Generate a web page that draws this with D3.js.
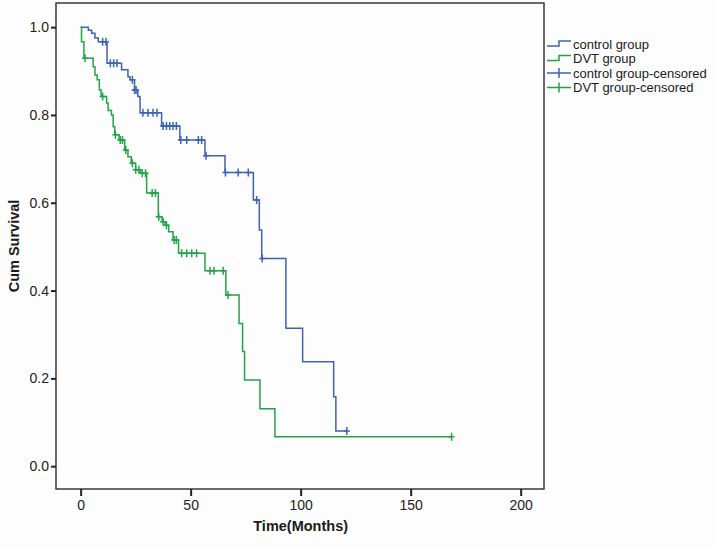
<!DOCTYPE html>
<html>
<head>
<meta charset="utf-8">
<script src="https://cdn.jsdelivr.net/npm/d3@7"></script>
<style>
  body { margin: 0; background: #fdfdfd; }
  svg { display: block; font-family: "Liberation Sans", Arial, sans-serif; }
</style>
</head>
<body>
<div class="km"></div>
<script>
// DATA ---------------------------------------------------
// control group: event times (months) and survival after each event
var ctrlTime = [0, 3.5, 5, 6.5, 8, 12, 18.6, 21.5, 22.4, 24.5, 26, 27, 36.8, 45.1, 56.5, 65.6, 78.5, 81.2, 82.3, 93.3, 100.9, 115, 116];
var ctrlSurv = [1.0, 0.993, 0.986, 0.975, 0.967, 0.918, 0.903, 0.887, 0.88, 0.857, 0.842, 0.805, 0.775, 0.743, 0.707, 0.669, 0.606, 0.538, 0.473, 0.314, 0.238, 0.158, 0.080];
var ctrlCensored = [10, 11.5, 13.5, 15, 16.5, 23.5, 24.5, 25.2, 28.3, 30.6, 32.9, 34.7, 37.5, 39, 40.5, 42, 43.5, 45.5, 48.2, 53.5, 55, 57, 65.8, 71.6, 76.2, 80, 82.5, 121];

// DVT group
var dvtTime = [0, 0.4, 1.5, 5.7, 6.5, 7.5, 8.5, 9.3, 11.8, 12.5, 14, 14.8, 15.5, 17.5, 20, 21.5, 23, 25, 27, 30, 35.3, 37, 38.5, 40, 42, 44.5, 56.5, 66, 72, 73.6, 74.5, 81.5, 88.3];
var dvtSurv = [1.0, 0.967, 0.929, 0.91, 0.891, 0.88, 0.857, 0.842, 0.827, 0.81, 0.80, 0.773, 0.755, 0.743, 0.72, 0.705, 0.69, 0.675, 0.667, 0.622, 0.568, 0.557, 0.549, 0.534, 0.515, 0.485, 0.445, 0.39, 0.325, 0.261, 0.196, 0.131, 0.067];
var dvtCensored = [2, 10, 15.8, 18, 19, 20.5, 23.5, 25, 26.5, 28, 29.5, 32.5, 34, 35.5, 37.5, 39, 42.5, 43.5, 45.9, 48.2, 50.5, 52.7, 58.8, 60.6, 64.8, 67, 168.6];

var xTicks = [0, 50, 100, 150, 200];
var yTicks = [0.0, 0.2, 0.4, 0.6, 0.8, 1.0];
var legendLabels = ["control group", "DVT group", "control group-censored", "DVT group-censored"];

var blue = "#3d63b1";
var green = "#22a346";

// SVG SETUP ----------------------------------------------
var svgWidth = 714;
var svgHeight = 548;
var margin = { top: 3, left: 56 };
var chartWidth = 488;
var chartHeight = 486;

var svg = d3.select(".km")
  .append("svg")
  .attr("width", svgWidth)
  .attr("height", svgHeight);

var chartGroup = svg.append("g")
  .attr("transform", `translate(${margin.left}, ${margin.top})`);

var x = d3.scaleLinear().domain([-11.2, 210.6]).range([0, chartWidth]);
var y = d3.scaleLinear().domain([-0.052, 1.055]).range([chartHeight, 0]);

// frame
chartGroup.append("rect")
  .attr("width", chartWidth)
  .attr("height", chartHeight)
  .attr("fill", "#fdfdfd")
  .attr("stroke", "#2a2a2a")
  .attr("stroke-width", 1.4);

// axes
var leftAxis = d3.axisLeft(y).tickValues(yTicks).tickFormat(d3.format(".1f")).tickSize(5).tickSizeOuter(0);
var bottomAxis = d3.axisBottom(x).tickValues(xTicks).tickSize(7).tickSizeOuter(0);

var yAxisG = chartGroup.append("g").call(leftAxis);
var xAxisG = chartGroup.append("g")
  .attr("transform", `translate(0, ${chartHeight})`)
  .call(bottomAxis);

[yAxisG, xAxisG].forEach(function(g) {
  g.select(".domain").remove();
  g.selectAll("line").attr("stroke", "#222").attr("stroke-width", 2);
  g.selectAll("text")
    .attr("fill", "#222")
    .style("font-size", "14px")
    .style("font-family", "Liberation Sans, Arial, sans-serif");
});
yAxisG.selectAll("text").attr("x", -7);
xAxisG.selectAll("text").attr("y", 11);

// axis titles
chartGroup.append("text")
  .attr("transform", "rotate(-90)")
  .attr("x", -243)
  .attr("y", -37)
  .attr("text-anchor", "middle")
  .style("font-size", "14.5px")
  .style("font-weight", "bold")
  .attr("fill", "#1a1a1a")
  .text("Cum Survival");

chartGroup.append("text")
  .attr("x", x(100))
  .attr("y", chartHeight + 42)
  .attr("text-anchor", "middle")
  .style("font-size", "14.5px")
  .style("font-weight", "bold")
  .attr("fill", "#1a1a1a")
  .text("Time(Months)");

// CURVES -------------------------------------------------
function stepAt(times, surv, t) {
  var i = d3.bisectRight(times, t) - 1;
  return surv[Math.max(i, 0)];
}

var stepLine = d3.line()
  .x(d => x(d[0]))
  .y(d => y(d[1]))
  .curve(d3.curveStepAfter);

var groups = [
  { time: ctrlTime, surv: ctrlSurv, cens: ctrlCensored, color: blue },
  { time: dvtTime, surv: dvtSurv, cens: dvtCensored, color: green }
];

groups.forEach(function(g) {
  var pts = g.time.map((t, i) => [t, g.surv[i]]);
  var last = d3.max(g.cens);
  pts.push([last, g.surv[g.surv.length - 1]]);

  chartGroup.append("path")
    .datum(pts)
    .attr("d", stepLine)
    .attr("fill", "none")
    .attr("stroke", g.color)
    .attr("stroke-width", 1.5);

  // censored marks
  chartGroup.selectAll(null)
    .data(g.cens)
    .enter()
    .append("path")
    .attr("d", function(t) {
      var cx = x(t), cy = y(stepAt(g.time, g.surv, t));
      return `M${cx - 3},${cy}h6M${cx},${cy - 4}v8`;
    })
    .attr("stroke", g.color)
    .attr("stroke-width", 1.5)
    .attr("fill", "none");
});

// LEGEND -------------------------------------------------
var legend = svg.append("g").attr("transform", "translate(547, 44)");
var legendColors = [blue, green, blue, green];

legendLabels.forEach(function(label, i) {
  var row = legend.append("g").attr("transform", `translate(0, ${i * 14.5})`);
  if (i < 2) {
    row.append("path")
      .attr("d", "M0,2H12V-3H24")
      .attr("fill", "none")
      .attr("stroke", legendColors[i])
      .attr("stroke-width", 1.5);
  } else {
    row.append("path")
      .attr("d", "M0,0H24M12,-5V5")
      .attr("fill", "none")
      .attr("stroke", legendColors[i])
      .attr("stroke-width", 1.5);
  }
  row.append("text")
    .attr("x", 26)
    .attr("y", 4.5)
    .style("font-size", "13px")
    .attr("fill", "#1a1a1a")
    .text(label);
});
</script>
</body>
</html>
